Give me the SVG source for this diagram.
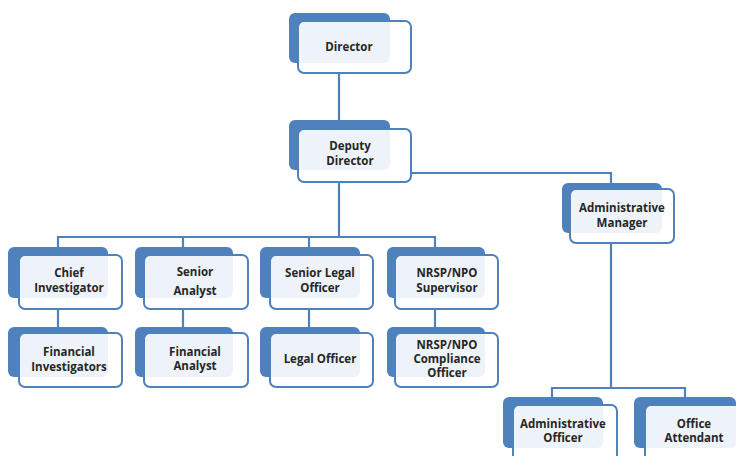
<svg xmlns="http://www.w3.org/2000/svg" width="736" height="456" viewBox="0 0 736 456">
<style>
.bk{fill:#4f81bd;}
.fr{fill:#ffffff;fill-opacity:0.9;stroke:#4f81bd;stroke-width:2;}
.t{font-family:"Open Sans","DejaVu Sans",sans-serif;font-weight:700;font-size:11.5px;fill:#262626;text-anchor:middle;}
.c{fill:none;stroke:#4f81bd;stroke-width:2.2;}
</style>
<rect width="736" height="456" fill="#ffffff"/>
<g id="connectors">
<path class="c" d="M339 73V129"/>
<path class="c" d="M339 182V237"/>
<path class="c" d="M58 247V237H435V247"/>
<path class="c" d="M183 237V247"/>
<path class="c" d="M309 237V247"/>
<path class="c" d="M411 173H611V183"/>
<path class="c" d="M58 309V327"/>
<path class="c" d="M183 309V327"/>
<path class="c" d="M309 309V327"/>
<path class="c" d="M435 309V327"/>
<path class="c" d="M611 243V388"/>
<path class="c" d="M552 397V388H685V397"/>
</g>
<g id="director">
<rect class="bk" x="289" y="13" width="101" height="50" rx="6"/>
<rect class="fr" x="298" y="21" width="113" height="52" rx="6"/>
<text class="t" x="349" y="51">Director</text>
</g>
<g id="deputy-director">
<rect class="bk" x="289" y="120" width="101" height="50" rx="6"/>
<rect class="fr" x="298" y="129" width="113" height="53" rx="6"/>
<text class="t" x="350" y="150">Deputy</text>
<text class="t" x="350" y="165">Director</text>
</g>
<g id="administrative-manager">
<rect class="bk" x="562" y="183" width="100" height="50" rx="6"/>
<rect class="fr" x="570" y="189" width="104" height="54" rx="6"/>
<text class="t" x="622" y="212">Administrative</text>
<text class="t" x="622" y="227">Manager</text>
</g>
<g id="chief-investigator">
<rect class="bk" x="8" y="247" width="100" height="51" rx="6"/>
<rect class="fr" x="19" y="255" width="103" height="54" rx="6"/>
<text class="t" x="69" y="277">Chief</text>
<text class="t" x="69" y="292">Investigator</text>
</g>
<g id="senior-analyst">
<rect class="bk" x="135" y="247" width="98" height="51" rx="6"/>
<rect class="fr" x="144" y="255" width="104" height="54" rx="6"/>
<text class="t" x="195" y="276">Senior</text>
<text class="t" x="195" y="295">Analyst</text>
</g>
<g id="senior-legal-officer">
<rect class="bk" x="260" y="247" width="100" height="51" rx="6"/>
<rect class="fr" x="270" y="255" width="103" height="54" rx="6"/>
<text class="t" x="320" y="277">Senior Legal</text>
<text class="t" x="320" y="292">Officer</text>
</g>
<g id="nrsp-npo-supervisor">
<rect class="bk" x="387" y="247" width="98" height="51" rx="6"/>
<rect class="fr" x="395" y="255" width="103" height="54" rx="6"/>
<text class="t" x="447" y="277">NRSP/NPO</text>
<text class="t" x="447" y="292">Supervisor</text>
</g>
<g id="financial-investigators">
<rect class="bk" x="8" y="327" width="100" height="50" rx="6"/>
<rect class="fr" x="19" y="333" width="103" height="54" rx="6"/>
<text class="t" x="69" y="356">Financial</text>
<text class="t" x="69" y="371">Investigators</text>
</g>
<g id="financial-analyst">
<rect class="bk" x="135" y="327" width="98" height="50" rx="6"/>
<rect class="fr" x="144" y="333" width="104" height="54" rx="6"/>
<text class="t" x="195" y="356">Financial</text>
<text class="t" x="195" y="370">Analyst</text>
</g>
<g id="legal-officer">
<rect class="bk" x="260" y="327" width="100" height="50" rx="6"/>
<rect class="fr" x="270" y="333" width="103" height="54" rx="6"/>
<text class="t" x="320" y="363">Legal Officer</text>
</g>
<g id="nrsp-npo-compliance-officer">
<rect class="bk" x="387" y="327" width="98" height="50" rx="6"/>
<rect class="fr" x="395" y="333" width="103" height="54" rx="6"/>
<text class="t" x="447" y="349">NRSP/NPO</text>
<text class="t" x="447" y="363">Compliance</text>
<text class="t" x="447" y="377">Officer</text>
</g>
<g id="administrative-officer">
<rect class="bk" x="503" y="397" width="100" height="51" rx="6"/>
<rect class="fr" x="513" y="405" width="104" height="60" rx="6"/>
<text class="t" x="563" y="428">Administrative</text>
<text class="t" x="563" y="442">Officer</text>
</g>
<g id="office-attendant">
<rect class="bk" x="634" y="397" width="102" height="51" rx="6"/>
<rect class="fr" x="645" y="405" width="104" height="60" rx="6"/>
<text class="t" x="694" y="428">Office</text>
<text class="t" x="694" y="442">Attendant</text>
</g>
</svg>
